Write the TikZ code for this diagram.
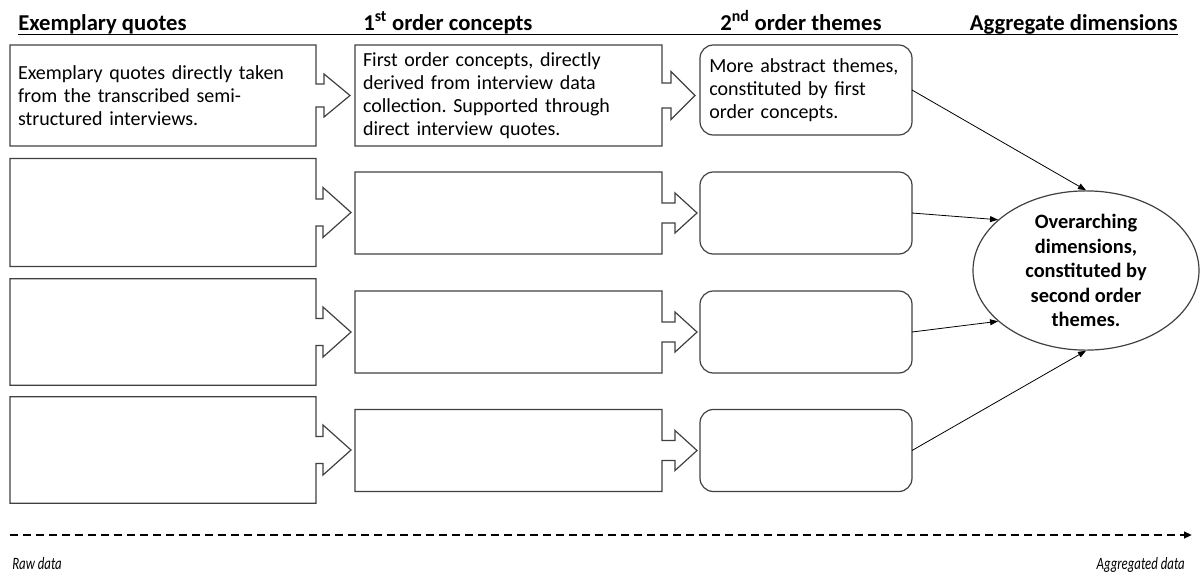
\documentclass[tikz,border=0pt]{standalone}
\usepackage{fontspec}
\setmainfont{Carlito}
\newfontfamily\notefont[FakeStretch=0.74]{Carlito}
\usetikzlibrary{arrows.meta,calc,shapes.geometric}
\frenchspacing
\begin{document}
\begin{tikzpicture}[x=0.75pt,y=-0.75pt,
  box/.style={outer sep=0pt, inner xsep=6pt, align=left, font=\fontsize{15}{17.3}\selectfont},
  quotebox/.style={box, text width=217.5pt},
  conceptbox/.style={box, text width=218.25pt},
  themebox/.style={box, draw=black!75, line width=0.9pt, rounded corners=10pt, inner xsep=7pt, text width=145pt},
  callout/.style={draw=black!75, line width=0.9pt, line join=miter},
  dimension/.style={ellipse, draw=black!75, line width=0.9pt, minimum width=169.5pt, minimum height=101.25pt,
    inner sep=0pt, align=center, font=\bfseries\fontsize{15.3}{18.4}\selectfont},
  head/.style={font=\bfseries\fontsize{17}{20}\selectfont, inner sep=0pt},
  link/.style={-{Triangle[length=6pt,width=4.5pt]}, line width=0.6pt},
  flow/.style={-{Triangle[length=6pt,width=5pt]}, line width=1.5pt, dash pattern=on 6pt off 3.75pt},
  note/.style={font=\notefont\itshape\fontsize{13}{15}\selectfont, inner sep=0pt}]
\useasboundingbox (0,0) rectangle (1200,576);
% Headers
\node[head, anchor=base west] (h1) at (18,30) {Exemplary quotes};
\node[head, anchor=base west] (h2) at (363,30) {1\textsuperscript{st} order concepts};
\node[head, anchor=base west] (h3) at (720,30) {2\textsuperscript{nd} order themes};
\node[head, anchor=base east] (h4) at (1178,30) {Aggregate dimensions};
\draw[line width=0.7pt] ($(h1.base west)+(0,4)$) -- ($(h4.base east)+(0,4)$);
% Exemplary quotes
\node[quotebox, minimum height=75.75pt] (q1) at (163,95.5) {Exemplary quotes directly taken\\ from the transcribed semi-\\ structured interviews.};
\node[quotebox, minimum height=81pt] (q2) at (163,212.5) {};
\node[quotebox, minimum height=80pt] (q3) at (163,332) {};
\node[quotebox, minimum height=80pt] (q4) at (163,450) {};
% First order concepts
\node[conceptbox, minimum height=75.75pt] (c1) at (508.5,95.5) {First order concepts, directly\\ derived from interview data\\ collection. Supported through\\ direct interview quotes.};
\node[conceptbox, minimum height=61.5pt] (c2) at (508.5,213) {};
\node[conceptbox, minimum height=61.5pt] (c3) at (508.5,332) {};
\node[conceptbox, minimum height=61.5pt] (c4) at (508.5,450.5) {};
% Callout outlines
\foreach \b/\sh/\hd/\s/\tp in {q1/11.5/21.5/8/34, q2/13.5/25/7/35, q3/13.5/25/7/35, q4/13.5/25/7/35,
    c1/12.5/24/9/33, c2/10/20/13/35, c3/10/20/13/35, c4/10/20/13/35} {
  \draw[callout] (\b.north west) -- (\b.north east) -- ($(\b.east)+(0,-\sh)$) -- ($(\b.east)+(\s,-\sh)$)
    -- ($(\b.east)+(\s,-\hd)$) -- ($(\b.east)+(\tp,0)$) -- ($(\b.east)+(\s,\hd)$) -- ($(\b.east)+(\s,\sh)$)
    -- ($(\b.east)+(0,\sh)$) -- (\b.south east) -- (\b.south west) -- cycle;
}
% Second order themes
\node[themebox, minimum height=67.5pt] (t1) at (806,90) {More abstract themes,\\ constituted by first\\ order concepts.};
\node[themebox, minimum height=61.5pt] (t2) at (806,213) {};
\node[themebox, minimum height=61.5pt] (t3) at (806,332) {};
\node[themebox, minimum height=61.5pt] (t4) at (806,450.5) {};
% Aggregate dimension
\node[dimension] (dim) at (1086,270.5) {Overarching\\ dimensions,\\ constituted by\\ second order\\ themes.};
\draw[link] (t1.east) -- (dim.north);
\draw[link] (t2.east) -- (dim.150);
\draw[link] (t3.east) -- (dim.210);
\draw[link] (t4.east) -- (dim.south);
% Raw to aggregated
\coordinate (raw) at (10,535);
\coordinate (agg) at (1192,535);
\draw[flow] (raw) -- (agg);
\node[note, anchor=base west] (rawlbl) at (12,569) {Raw data};
\node[note, anchor=base east] (agglbl) at (1185,569) {Aggregated data};
\end{tikzpicture}
\end{document}
